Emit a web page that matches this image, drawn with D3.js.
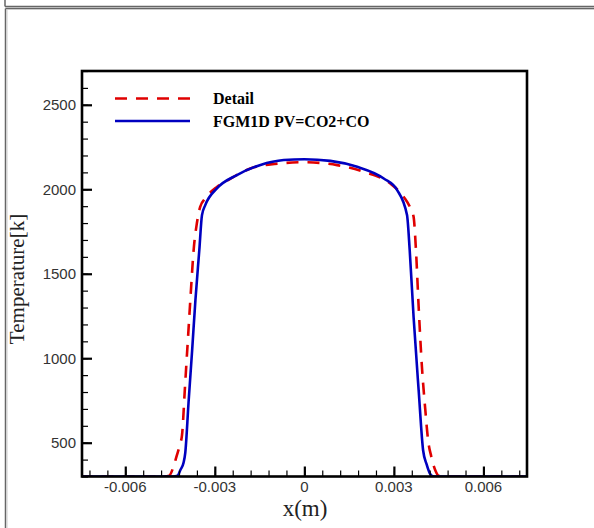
<!DOCTYPE html>
<html>
<head>
<meta charset="utf-8">
<script src="https://cdn.jsdelivr.net/npm/d3@7"></script>
<style>
  body { margin: 0; background: #fff; }
  svg { display: block; }
</style>
</head>
<body>
<div id="chart"></div>
<script>
// temperature profiles
var detailX = [-0.0075, -0.0048, -0.00453, -0.0044, -0.00428, -0.00416, -0.0041, -0.0040, -0.0039, -0.0038, -0.00371, -0.0036, -0.00349, -0.00332, -0.00293, -0.0025, -0.00181, -0.0010, 0, 0.0011, 0.0020, 0.00288, 0.00333, 0.00355, 0.00366, 0.00374, 0.00383, 0.00394, 0.00405, 0.00415, 0.00425, 0.00438, 0.0045, 0.0048, 0.0075];
var detailT = [300, 300, 305, 350, 420, 495, 543, 829, 1116, 1402, 1639, 1800, 1896, 1946, 2014, 2060, 2123, 2150, 2160, 2143, 2103, 2034, 1955, 1890, 1837, 1639, 1303, 948, 700, 510, 420, 340, 305, 300, 300];
var fgmX = [-0.0075, -0.0044, -0.00425, -0.00415, -0.00405, -0.00399, -0.00388, -0.00376, -0.00365, -0.00352, -0.00343, -0.00332, -0.00293, -0.00226, -0.00147, -0.00069, 0, 0.00087, 0.00177, 0.00266, 0.00311, 0.00344, 0.00353, 0.00366, 0.00383, 0.00398, 0.0041, 0.0042, 0.0043, 0.0044, 0.0075];
var fgmT = [300, 300, 305, 340, 380, 440, 738, 1047, 1343, 1639, 1847, 1906, 2005, 2084, 2144, 2173, 2178, 2168, 2133, 2064, 1995, 1847, 1639, 1244, 810, 454, 370, 320, 302, 300, 300];

var seriesNames = ["Detail", "FGM1D PV=CO2+CO"];
var xMajor = [-0.006, -0.003, 0, 0.003, 0.006];
var xMajorLabels = ["-0.006", "-0.003", "0", "0.003", "0.006"];
var yMajor = [500, 1000, 1500, 2000, 2500];
var xMinor = d3.range(-72, 73, 6).map(function(d){ return d / 10000; });
var yMinor = d3.range(300, 2701, 100);

var W = 594, H = 528;
var pLeft = 82, pRight = 527, pTop = 71, pBottom = 476.5;

var svg = d3.select("#chart").append("svg").attr("width", W).attr("height", H);

// window frame lines
svg.append("line").attr("x1",5).attr("y1",0).attr("x2",5).attr("y2",6.5).attr("stroke","#666").attr("stroke-width",1.5);
svg.append("line").attr("x1",5).attr("y1",6.5).attr("x2",W).attr("y2",6.5).attr("stroke","#666").attr("stroke-width",1.5);
svg.append("line").attr("x1",5.5).attr("y1",8.5).attr("x2",W).attr("y2",8.5).attr("stroke","#666").attr("stroke-width",1.5);
svg.append("line").attr("x1",5.5).attr("y1",8.5).attr("x2",5.5).attr("y2",H).attr("stroke","#666").attr("stroke-width",1.5);
svg.append("line").attr("x1",7).attr("y1",9.5).attr("x2",W).attr("y2",9.5).attr("stroke","#ccc").attr("stroke-width",1);
svg.append("line").attr("x1",7).attr("y1",9.5).attr("x2",7).attr("y2",H).attr("stroke","#ccc").attr("stroke-width",1);

var x = d3.scaleLinear().domain([-0.00745, 0.00746]).range([pLeft, pRight]);
var y = d3.scaleLinear().domain([300, 2700]).range([pBottom, pTop]);

svg.append("defs").append("clipPath").attr("id","clip")
  .append("rect").attr("x",pLeft).attr("y",pTop).attr("width",pRight-pLeft).attr("height",pBottom-pTop);

var line = d3.line().x(function(d){ return x(d[0]); }).y(function(d){ return y(d[1]); }).curve(d3.curveMonotoneX);

var g = svg.append("g").attr("clip-path","url(#clip)");
g.append("path").datum(d3.zip(detailX, detailT)).attr("d", line)
  .attr("fill","none").attr("stroke","#e00000").attr("stroke-width",2.6).attr("stroke-dasharray","12,9");
g.append("path").datum(d3.zip(fgmX, fgmT)).attr("d", line)
  .attr("fill","none").attr("stroke","#0000c0").attr("stroke-width",2.6);

// minor ticks (inward)
svg.append("g").attr("transform","translate(0," + pBottom + ")")
  .call(d3.axisTop(x).tickValues(xMinor).tickSize(6).tickFormat(""))
  .call(function(a){ a.select(".domain").remove(); a.selectAll("line").attr("stroke","#000").attr("stroke-width",1.2); });
svg.append("g").attr("transform","translate(" + pLeft + ",0)")
  .call(d3.axisRight(y).tickValues(yMinor).tickSize(6).tickFormat(""))
  .call(function(a){ a.select(".domain").remove(); a.selectAll("line").attr("stroke","#000").attr("stroke-width",1.2); });

// major ticks
svg.append("g").attr("transform","translate(0," + pBottom + ")")
  .call(d3.axisTop(x).tickValues(xMajor).tickSize(10).tickFormat(""))
  .call(function(a){ a.select(".domain").remove(); a.selectAll("line").attr("stroke","#000").attr("stroke-width",2.2); });
svg.append("g").attr("transform","translate(" + pLeft + ",0)")
  .call(d3.axisRight(y).tickValues(yMajor).tickSize(10).tickFormat(""))
  .call(function(a){ a.select(".domain").remove(); a.selectAll("line").attr("stroke","#000").attr("stroke-width",2.2); });

// frame
svg.append("rect").attr("x",pLeft).attr("y",pTop).attr("width",pRight-pLeft).attr("height",pBottom-pTop)
  .attr("fill","none").attr("stroke","#000").attr("stroke-width",2.6);

// tick labels
svg.selectAll(".xl").data(xMajor).enter().append("text")
  .attr("x", function(d){ return x(d); }).attr("y", 492)
  .attr("text-anchor","middle").attr("font-family","Liberation Sans, Arial, sans-serif")
  .attr("font-size","15px").attr("fill","#333")
  .text(function(d, i){ return xMajorLabels[i]; });
svg.selectAll(".yl").data(yMajor).enter().append("text")
  .attr("x", 76).attr("y", function(d){ return y(d) + 5.5; })
  .attr("text-anchor","end").attr("font-family","Liberation Sans, Arial, sans-serif")
  .attr("font-size","15px").attr("fill","#333")
  .text(function(d){ return d; });

// axis titles
svg.append("text").attr("x", 305).attr("y", 516).attr("text-anchor","middle")
  .attr("font-family","Liberation Serif, Times New Roman, serif").attr("font-size","23px").attr("fill","#222")
  .text("x(m)");
svg.append("text").attr("transform","translate(24,279) rotate(-90)").attr("text-anchor","middle")
  .attr("font-family","Liberation Serif, Times New Roman, serif").attr("font-size","21px").attr("fill","#222")
  .text("Temperature[k]");

// legend
svg.append("line").attr("x1",115).attr("x2",190).attr("y1",98.5).attr("y2",98.5)
  .attr("stroke","#e00000").attr("stroke-width",2.6).attr("stroke-dasharray","12,9");
svg.append("line").attr("x1",115).attr("x2",190).attr("y1",121).attr("y2",121)
  .attr("stroke","#0000c0").attr("stroke-width",2.6);
svg.append("text").text(seriesNames[0]).attr("x",213).attr("y",104)
  .attr("font-family","Liberation Serif, Times New Roman, serif").attr("font-weight","bold").attr("font-size","16px").attr("fill","#000");
svg.append("text").text(seriesNames[1]).attr("x",213).attr("y",127)
  .attr("font-family","Liberation Serif, Times New Roman, serif").attr("font-weight","bold").attr("font-size","16px").attr("fill","#000");
</script>
</body>
</html>
